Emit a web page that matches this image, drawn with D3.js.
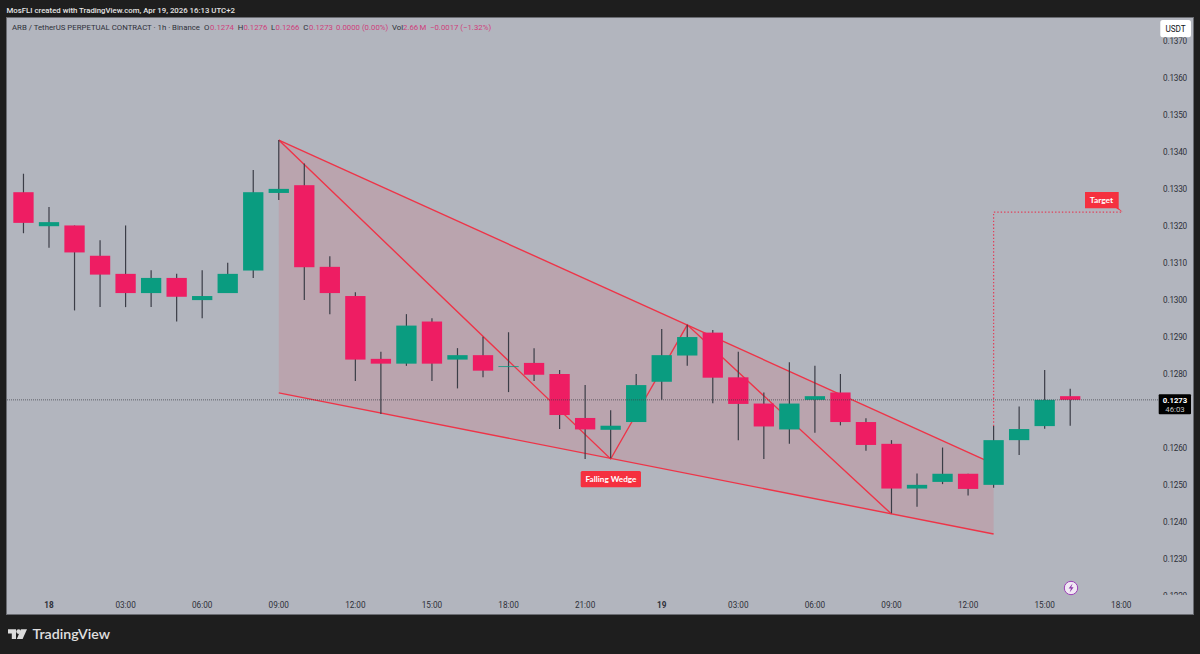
<!DOCTYPE html>
<html><head><meta charset="utf-8">
<script src="https://cdnjs.cloudflare.com/ajax/libs/d3/7.8.5/d3.min.js"></script>
<style>html,body{margin:0;padding:0;background:#1e1e1e;overflow:hidden}svg{display:block}</style></head>
<body><svg id="c" width="1200" height="654"></svg>
<script>
const openP =[.13292,.13200,.13202,.13120,.13071,.13019,.13060,.13000,.13019,.13080,.13290,.13311,.13090,.13011,.12841,.12828,.12942,.12839,.12851,.12821,.12830,.12800,.12681,.12649,.12670,.12779,.12850,.12912,.12791,.12720,.12650,.12730,.12750,.12670,.12611,.12490,.12508,.12530,.12500,.12621,.12659,.1274];
const highP =[.13342,.13252,.13202,.13162,.13202,.13081,.13071,.13081,.13101,.13352,.13433,.13370,.13119,.13021,.12860,.12962,.12951,.12870,.12901,.12913,.12870,.12811,.12770,.12702,.12800,.12922,.12933,.12919,.12860,.12750,.12832,.12822,.12800,.12680,.12621,.12531,.12601,.12530,.12659,.12712,.12811,.1276];
const lowP  =[.13181,.13142,.12972,.12981,.12981,.12981,.12942,.12951,.13019,.13060,.13271,.13000,.12962,.12781,.12692,.12822,.12781,.12761,.12791,.12751,.12781,.12651,.12570,.12572,.12670,.12730,.12822,.12721,.12621,.12570,.12611,.12641,.12661,.12592,.12423,.12441,.12502,.12471,.12492,.12581,.12652,.1266];
const closeP=[.13209,.13211,.13129,.13069,.13019,.13060,.13009,.13011,.13071,.13292,.13301,.13089,.13019,.12839,.12828,.12931,.12828,.12851,.12809,.12821,.12798,.12689,.12650,.12660,.12770,.12851,.12900,.12790,.12719,.12658,.12720,.12740,.12670,.12608,.12490,.12500,.12530,.12489,.12621,.12651,.12730,.1273];
const firstHour=-1;
const priceTicks=[.1370,.1360,.1350,.1340,.1330,.1320,.1310,.1300,.1290,.1280,.1270,.1260,.1250,.1240,.1230,.1220];
const timeHours=[0,3,6,9,12,15,18,21,24,27,30,33,36,39,42];
const timeLabels=["18","03:00","06:00","09:00","12:00","15:00","18:00","21:00","19","03:00","06:00","09:00","12:00","15:00","18:00"];
const wedgeH=[9,37,37,9];
const wedgeP=[.13433,.12557,.12367,.12749];
const zigH=[9,22,25,33];
const zigP=[.13433,.12570,.12933,.12421];
const targetH=[37,37,42];
const targetP=[.12659,.13238,.13238];
const lastPrice=.1273;

const RED="#ee1d63",GREEN="#0a9c80",LINE="#ee3448",TXT="#2e3039",PINK="#cf3f7c";
const x=d3.scaleLinear().domain([0,42]).range([49,49+25.53*42]);
const y=d3.scaleLinear().domain([.128,.122]).range([374,595.7]);
const svg=d3.select("#c");
const F="Roboto,'Noto Sans',sans-serif";
const defs=svg.append("defs");
defs.append("clipPath").attr("id","plot").append("rect").attr("x",7).attr("y",18).attr("width",1186).attr("height",577);
svg.append("rect").attr("x",6.5).attr("y",17.5).attr("width",1187).attr("height",597).attr("fill","#b2b5be").attr("stroke","#6a6c72");
svg.append("text").attr("x",6.5).attr("y",12.5).attr("fill","#e4e4e4").attr("font-family",F).attr("font-size",7.8).attr("font-weight",500).text("MosFLI created with TradingView.com, Apr 19, 2026 16:13 UTC+2");

// legend
const lg=svg.append("g").attr("font-family",F).attr("font-size",7.8);
[["ARB / TetherUS PERPETUAL CONTRACT · 1h · Binance",TXT,12],["O",TXT,204],["0.1274",PINK,210],["H",TXT,237.7],["0.1276",PINK,243.4],["L",TXT,271],["0.1266",PINK,275.5],["C",TXT,303.3],["0.1273",PINK,309],["0.0000 (0.00%)",PINK,336],["Vol",TXT,392],["2.66",PINK,403],["M",PINK,419.5],["−0.0017 (−1.32%)",PINK,430]]
 .forEach(s=>lg.append("text").attr("x",s[2]).attr("y",30.3).attr("fill",s[1]).text(s[0]));

const plot=svg.append("g").attr("clip-path","url(#plot)");
// price axis
const ya=svg.append("g").attr("clip-path","url(#plot)");
ya.selectAll("text").data(priceTicks).join("text").attr("x",1187).attr("y",d=>y(d)+3).attr("text-anchor","end").attr("font-family",F).attr("font-size",8.2).attr("letter-spacing",-.2).attr("fill",TXT).text(d=>d.toFixed(4));
// time axis
svg.append("g").selectAll("text").data(timeHours).join("text").attr("x",d=>x(d)).attr("y",608).attr("text-anchor","middle").attr("font-family",F).attr("font-size",8.2).attr("font-weight",(d,i)=>timeLabels[i].length<3?700:400).attr("fill",TXT).text((d,i)=>timeLabels[i]);

// wedge
const ln=d3.line().x(d=>x(d[0])).y(d=>y(d[1]));
plot.append("path").attr("d",ln(wedgeH.map((h,i)=>[h,wedgeP[i]]))+"Z").attr("fill","#f23645").attr("fill-opacity",.13);
// pattern lines
const pat=plot.append("g").attr("fill","none").attr("stroke",LINE).attr("stroke-width",1.4);
pat.append("path").attr("d",ln([[wedgeH[0],wedgeP[0]],[wedgeH[1],wedgeP[1]]]));
pat.append("path").attr("d",ln([[wedgeH[3],wedgeP[3]],[wedgeH[2],wedgeP[2]]]));
pat.append("path").attr("d",ln(zigH.map((h,i)=>[h,zigP[i]])));
// target
plot.append("path").attr("d",ln(targetH.map((h,i)=>[h,targetP[i]]))).attr("fill","none").attr("stroke","#e0405a").attr("stroke-width",1.2).attr("stroke-dasharray","1.4 2");
// candles
const idx=d3.range(openP.length);
const W=20.3;
plot.append("g").selectAll("line").data(idx).join("line").attr("x1",i=>x(i+firstHour)).attr("x2",i=>x(i+firstHour)).attr("y1",i=>y(highP[i])).attr("y2",i=>y(lowP[i])).attr("stroke","#3b3d47").attr("stroke-width",1.2);
plot.append("g").selectAll("rect").data(idx).join("rect")
 .attr("x",i=>x(i+firstHour)-W/2).attr("width",W)
 .attr("y",i=>y(Math.max(openP[i],closeP[i])))
 .attr("height",i=>Math.max(.8,Math.abs(y(openP[i])-y(closeP[i]))))
 .attr("fill",i=>closeP[i]>=openP[i]?GREEN:RED);
// price line
plot.append("line").attr("x1",7).attr("x2",1158).attr("y1",y(lastPrice)).attr("y2",y(lastPrice)).attr("stroke","#3c3e46").attr("stroke-width",1).attr("stroke-dasharray","1 1").attr("opacity",.7);
// labels
svg.append("path").attr("d","M1085 192H1118.7V208.3L1122.7 212L1116 208.3H1085Z").attr("fill","#f5303f");
svg.append("text").attr("x",1101.5).attr("y",203).attr("text-anchor","middle").attr("font-family","Lato,sans-serif").attr("font-size",8.4).attr("font-weight",700).attr("fill","#fff").text("Target");
svg.append("rect").attr("x",580.7).attr("y",471).attr("width",60.3).attr("height",16.3).attr("rx",1.5).attr("fill","#f5303f");
svg.append("text").attr("x",611).attr("y",482).attr("text-anchor","middle").attr("font-family","Lato,sans-serif").attr("font-size",8.2).attr("font-weight",700).attr("fill","#fff").text("Falling Wedge");
// right tags
svg.append("rect").attr("x",1160.3).attr("y",20).attr("width",30.7).attr("height",17.3).attr("rx",2.5).attr("fill","#fff");
svg.append("text").attr("x",1175.6).attr("y",32).attr("text-anchor","middle").attr("font-family",F).attr("font-size",8.2).attr("fill","#131722").text("USDT");
svg.append("rect").attr("x",1158.7).attr("y",394.3).attr("width",32.3).attr("height",20).attr("rx",1).attr("fill","#000");
svg.append("text").attr("x",1175).attr("y",402.6).attr("text-anchor","middle").attr("font-family",F).attr("font-size",7.8).attr("font-weight",700).attr("fill","#fff").text(lastPrice.toFixed(4));
svg.append("text").attr("x",1175).attr("y",412.4).attr("text-anchor","middle").attr("font-family",F).attr("font-size",7.8).attr("fill","#c4c4c4").text("46:03");
// lightning
svg.append("circle").attr("cx",1071).attr("cy",588).attr("r",6.7).attr("fill","#f1e8f4").attr("stroke","#9c3fb8").attr("stroke-width",1);
svg.append("path").attr("d","M1072.6 583.6L1068.6 588.6H1071L1069.6 592.4L1073.6 587.3H1071.2Z").attr("fill","#8e3bab");
// logo
const g=svg.append("g").attr("fill","#dcdcdc");
g.append("path").attr("d","M8 629.3H16V639H11.8V633.6H8Z");
g.append("circle").attr("cx",18.6).attr("cy",631.6).attr("r",2.3);
g.append("path").attr("d","M21 629.3H27L22.6 639H16.8Z");
svg.append("text").attr("x",32.5).attr("y",639.3).attr("font-family","Lato,Inter,sans-serif").attr("font-size",14.2).attr("font-weight",600).attr("fill","#e0e0e0").text("TradingView");
</script></body></html>
